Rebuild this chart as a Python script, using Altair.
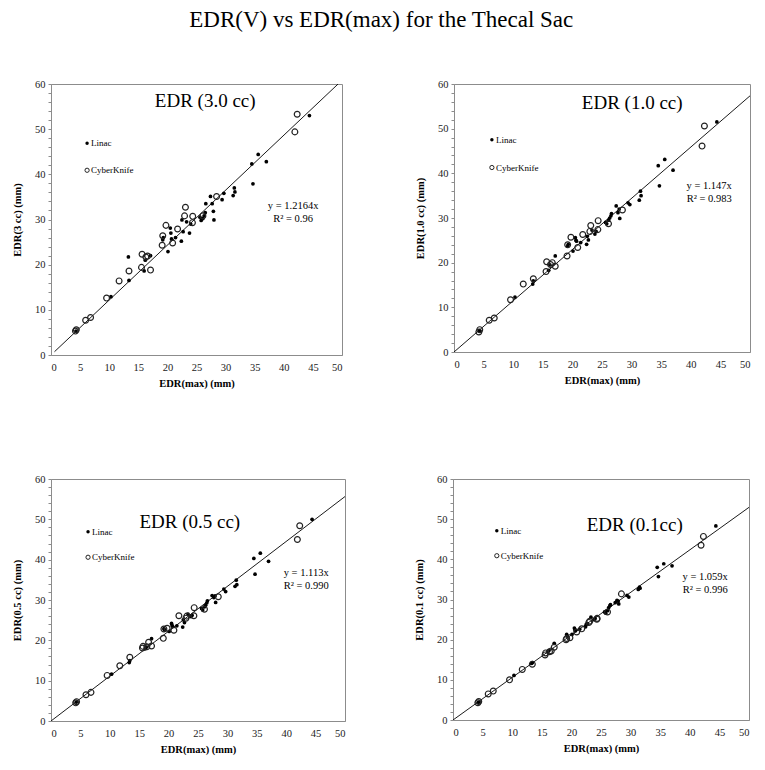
import altair as alt
import pandas as pd

# ---------------- data ----------------
linac_x = [4.3, 10.3, 13.3, 13.4, 16.0, 16.2, 17.1, 19.2, 19.3, 20.1, 20.5, 20.6, 20.7, 21.4,
           22.4, 22.5, 22.7, 23.3, 23.8, 24.0, 25.6, 25.8, 26.1, 26.3, 26.5, 26.6, 27.4, 27.7,
           27.9, 28.0, 29.4, 29.7, 31.3, 31.5, 31.6, 34.5, 34.7, 35.6, 37.0, 44.4]
linac_y_3cc = [5.3, 12.9, 21.7, 16.5, 18.6, 21.0, 22.0, 25.5, 26.0, 22.9, 28.1, 27.0, 25.7, 26.0,
               25.2, 29.9, 27.3, 29.5, 27.0, 29.0, 30.5, 29.8, 30.2, 30.8, 31.5, 33.5, 35.1, 33.5,
               31.8, 29.9, 34.4, 35.8, 35.3, 37.0, 36.1, 42.3, 37.9, 44.4, 42.8, 53.0]
linac_y_1cc = [4.8, 12.3, 15.2, 15.9, 18.3, 19.5, 21.5, 23.7, 24.1, 22.6, 25.6, 25.0, 24.8, 24.5,
               24.1, 25.9, 25.1, 27.3, 26.4, 27.0, 29.0, 28.7, 29.5, 30.0, 30.5, 31.0, 32.7, 31.2,
               32.0, 29.9, 33.4, 33.0, 34.0, 36.0, 35.0, 41.7, 37.2, 43.1, 40.7, 51.5]
linac_y_05cc = [4.7, 11.6, 14.5, 15.0, 17.9, 18.3, 20.4, 22.9, 22.6, 22.2, 24.2, 23.7, 23.4, 23.6,
                23.3, 25.1, 24.4, 26.5, 25.9, 26.2, 27.9, 27.5, 28.3, 28.7, 29.3, 29.8, 31.1, 30.6,
                31.0, 29.4, 32.7, 32.1, 33.4, 34.9, 33.8, 40.3, 36.4, 41.6, 39.6, 50.0]
linac_y_01cc = [4.4, 11.1, 14.1, 14.3, 17.0, 17.3, 19.1, 21.3, 20.9, 21.3, 22.9, 22.5, 22.2, 22.6,
                23.2, 23.8, 24.0, 25.6, 25.0, 25.3, 26.9, 26.6, 27.2, 28.0, 28.5, 28.7, 29.2, 29.8,
                29.6, 28.9, 31.0, 30.6, 32.5, 33.1, 32.8, 38.0, 35.7, 38.9, 38.4, 48.3]

ck_x = [4.2, 4.35, 5.95, 6.8, 9.55, 11.7, 13.4, 15.55, 15.65, 16.3, 16.6, 17.1, 19.1, 19.2,
        19.75, 20.9, 21.75, 22.95, 23.1, 24.3, 24.35, 26.1, 28.45, 41.9, 42.3]
ck_y_3cc = [5.3, 5.6, 7.7, 8.3, 12.6, 16.4, 18.6, 19.4, 22.3, 21.7, 21.9, 18.8, 24.3, 26.4,
            28.7, 24.8, 27.9, 30.8, 32.7, 29.3, 30.7, 30.8, 35.1, 49.4, 53.3]
ck_y_1cc = [4.5, 5.0, 7.1, 7.6, 11.7, 15.2, 16.4, 18.0, 20.2, 19.6, 20.0, 19.2, 21.5, 24.0,
            25.7, 23.4, 26.3, 27.0, 28.3, 27.4, 29.4, 28.7, 31.8, 46.1, 50.6]
ck_y_05cc = [4.5, 4.8, 6.5, 7.1, 11.3, 13.7, 15.8, 18.1, 18.5, 18.4, 19.5, 18.6, 20.5, 22.8,
             23.0, 22.5, 26.1, 25.5, 26.0, 26.1, 28.1, 27.7, 30.8, 45.0, 48.4]
ck_y_01cc = [4.3, 4.6, 6.5, 7.2, 10.0, 12.6, 13.9, 16.2, 16.7, 17.0, 17.2, 18.1, 20.0, 20.3,
             20.5, 21.9, 22.7, 24.3, 24.6, 25.1, 25.3, 26.9, 31.4, 43.5, 45.7]

linac_ys = [linac_y_3cc, linac_y_1cc, linac_y_05cc, linac_y_01cc]
ck_ys = [ck_y_3cc, ck_y_1cc, ck_y_05cc, ck_y_01cc]

slopes = [1.2164, 1.147, 1.113, 1.059]
slope_labels = ["y = 1.2164x", "y = 1.147x", "y = 1.113x", "y = 1.059x"]
r2_labels = ["R\u00b2 = 0.96", "R\u00b2 = 0.983", "R\u00b2 = 0.990", "R\u00b2 = 0.996"]
line_start = [0.6, 0.0, 0.0, 0.0]

panel_titles = ["EDR (3.0 cc)", "EDR (1.0 cc)", "EDR (0.5 cc)", "EDR (0.1cc)"]
y_titles = ["EDR(3 cc)   (mm)", "EDR(1.0 cc)   (mm)", "EDR(0.5 cc)   (mm)", "EDR(0.1 cc)   (mm)"]
x_title = "EDR(max)  (mm)"
main_title = "EDR(V) vs EDR(max) for the Thecal Sac"

title_pos = [(26.5, 56.2), (30.1, 55.7), (23.6, 49.3), (30.7, 48.6)]
eq_pos = [(41.6, 32.9), (43.1, 37.2), (43.4, 36.8), (42.6, 35.5)]
legend_pos = [(6.2, 46.9, 40.9), (6.4, 47.5, 41.3), (6.3, 46.9, 40.6), (7.4, 47.1, 40.9)]
legend_names = ["Linac", "CyberKnife"]

x_ticks = list(range(0, 51, 5))
y_ticks = list(range(0, 61, 2))

SERIF = "Liberation Serif"
GRAY = "#8c8c8c"


def enc_x():
    return alt.X("x:Q", scale=alt.Scale(domain=[0, 50], nice=False, zero=True),
                 axis=alt.Axis(values=x_ticks, title=x_title, ticks=False,
                               labelPadding=7, titlePadding=6))


def enc_y(i):
    return alt.Y("y:Q", scale=alt.Scale(domain=[0, 60], nice=False, zero=True),
                 axis=alt.Axis(values=y_ticks, title=y_titles[i], tickSize=3,
                               labelExpr="datum.value % 10 == 0 ? datum.label : ''",
                               labelOverlap=False, labelPadding=3, titlePadding=12))


def panel(i, w, h):
    X, Y = enc_x(), enc_y(i)
    lin = pd.DataFrame({"x": linac_x, "y": linac_ys[i]})
    ck = pd.DataFrame({"x": ck_x, "y": ck_ys[i]})
    x_end = min(50.0, 60.0 / slopes[i])
    tl = pd.DataFrame({"x": [line_start[i], x_end],
                       "y": [slopes[i] * line_start[i], slopes[i] * x_end]})
    tdf = pd.DataFrame({"x": [title_pos[i][0]], "y": [title_pos[i][1]], "t": [panel_titles[i]]})
    edf = pd.DataFrame({"x": [eq_pos[i][0]], "y": [eq_pos[i][1]], "t": [slope_labels[i]],
                        "r": [r2_labels[i]]})
    lx, ly1, ly2 = legend_pos[i]
    lgd = pd.DataFrame({"x": [lx, lx], "y": [ly1, ly2], "t": legend_names})

    line = alt.Chart(tl).mark_line(color="black", strokeWidth=0.9, clip=True).encode(x=X, y=Y)
    p_lin = alt.Chart(lin).mark_point(filled=True, color="black", size=14, opacity=1).encode(x=X, y=Y)
    p_ck = alt.Chart(ck).mark_point(filled=False, color="#222", size=34, strokeWidth=1.2,
                                    opacity=1).encode(x=X, y=Y)
    ttl = alt.Chart(tdf).mark_text(font=SERIF, fontSize=19, color="black").encode(x=X, y=Y, text="t:N")
    eq1 = alt.Chart(edf).mark_text(font=SERIF, fontSize=10.5, color="black").encode(x=X, y=Y, text="t:N")
    eq2 = alt.Chart(edf).mark_text(font=SERIF, fontSize=10.5, color="black", dy=13).encode(x=X, y=Y, text="r:N")
    lg_dot = alt.Chart(lgd.iloc[[0]]).mark_point(filled=True, color="black", size=12, opacity=1).encode(x=X, y=Y)
    lg_circ = alt.Chart(lgd.iloc[[1]]).mark_point(filled=False, color="#222", size=18, strokeWidth=1,
                                                  opacity=1).encode(x=X, y=Y)
    lg_txt = alt.Chart(lgd).mark_text(font=SERIF, fontSize=9, color="black", align="left",
                                      dx=4).encode(x=X, y=Y, text="t:N")
    return alt.layer(line, p_lin, p_ck, ttl, eq1, eq2, lg_dot, lg_circ, lg_txt).properties(
        width=w, height=h)


top = alt.hconcat(panel(0, 291, 271), panel(1, 296, 268), spacing=72)
bottom = alt.hconcat(panel(2, 294, 242), panel(3, 296, 241), spacing=68)

chart = alt.vconcat(top, bottom, spacing=83).properties(
    title=alt.TitleParams(main_title, font=SERIF, fontSize=23, fontWeight="normal",
                          color="black", anchor="middle", offset=47),
    padding={"left": 4, "top": 0, "right": 2, "bottom": 5},
).configure_view(stroke=GRAY, strokeWidth=1).configure_axis(
    grid=False, domainColor=GRAY, tickColor=GRAY, labelFont=SERIF, labelFontSize=10.5,
    labelColor="#222", titleFont=SERIF, titleFontSize=10.5, titleFontWeight="bold",
    titleColor="black"
).configure_title(font=SERIF, fontSize=23, fontWeight="normal", color="black")

chart.save("out.html", embed_options={"renderer": "svg", "actions": False})
